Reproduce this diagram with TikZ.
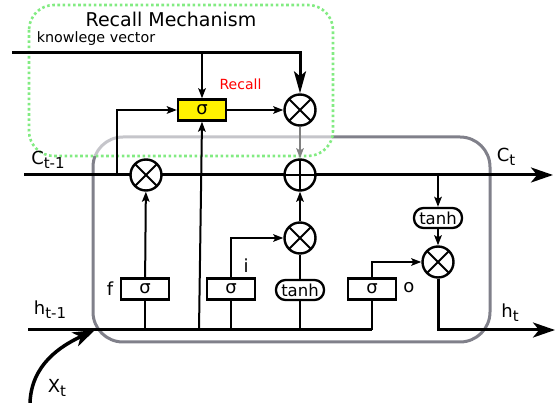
\documentclass[tikz,border=0pt]{standalone}
\usepackage{fontspec}
\setmainfont{DejaVu Sans}
\usetikzlibrary{arrows.meta}
\definecolor{cellgray}{RGB}{128,128,138}
\definecolor{recallgreen}{RGB}{130,235,130}

\begin{document}
\begin{tikzpicture}[x=1pt,y=-1pt,>={Stealth[length=10pt,width=7.5pt,inset=2pt]},line width=2pt,
  gate/.style={circle,draw,fill=white,line width=2.4pt,minimum size=31pt,inner sep=0pt},
  timesgate/.style={gate,path picture={\draw[line width=2pt] (path picture bounding box.north west) -- (path picture bounding box.south east) (path picture bounding box.north east) -- (path picture bounding box.south west);}},
  plusgate/.style={gate,path picture={\draw[line width=2pt] (path picture bounding box.north) -- (path picture bounding box.south) (path picture bounding box.east) -- (path picture bounding box.west);}},
  sigbox/.style={rectangle,draw,fill=white,line width=2.3pt,minimum width=48pt,minimum height=21pt,inner sep=0pt,font=\fontsize{18}{18}\selectfont},
  tanhbox/.style={rectangle,rounded corners=9.5pt,draw,fill=white,line width=2.3pt,minimum width=48pt,minimum height=20pt,inner sep=0pt,font=\fontsize{16.5}{16.5}\selectfont},
  lbl/.style={font=\fontsize{18}{18}\selectfont,inner sep=0pt},
  thickline/.style={line width=3pt},
  bigtip/.style={-{Stealth[length=22pt,width=15pt,inset=6pt]}}]

  \useasboundingbox (0,0) rectangle (557,403);

  % cell and recall boxes
  \draw[cellgray, line width=3pt, rounded corners=30pt] (93,137) rectangle (490,342);
  \draw[recallgreen, line width=2.6pt, dash pattern=on 2.6pt off 2.6pt, rounded corners=25pt, fill=white, fill opacity=0.55] (29,5) rectangle (333,156);

  \coordinate (kin) at (12,53);
  \coordinate (cin) at (24,175);
  \coordinate (cout) at (553,175);
  \coordinate (hin) at (28,330);
  \coordinate (hout) at (555,330);
  \coordinate (xin) at (30,403);
  \coordinate (xend) at (95,330);
  \coordinate (rtap) at (117,175);
  \coordinate (htap) at (199,330);

  % cell state line
  \draw[thickline, bigtip] (cin) -- (cout);

  \node[timesgate] (rgate) at (300,110) {};
  \node[sigbox, fill=yellow] (rsig) at (202,110) {σ};
  \node[plusgate] (cplus) at (300,175) {};
  \node[timesgate] (fgate) at (146,175) {};
  \node[sigbox] (fsig) at (145,289) {σ};
  \node[sigbox] (isig) at (231,289) {σ};
  \node[tanhbox] (itanh) at (300,290) {tanh};
  \node[timesgate] (igate) at (300,238) {};
  \node[sigbox] (osig) at (372,289) {σ};
  \node[timesgate] (ogate) at (438,262) {};
  \node[tanhbox] (otanh) at (438,218) {tanh};

  % recall mechanism
  \draw[thickline, -{Stealth[length=22pt,width=12pt,inset=5pt]}] (kin) -| (rgate.north);
  \draw[->] (rsig |- kin) -- (rsig.north);
  \draw[->] (rtap) |- (rsig.west);
  \draw[->] (htap) -- (rsig.south);
  \draw[->] (rsig) -- (rgate);
  \draw[->, color=gray] (rgate) -- (cplus);

  % gates
  \draw[thickline] (hin) -- (osig.south |- hin);
  \draw[->] (fsig) -- (fgate);
  \draw (fsig.south) -- (fsig.south |- hin);
  \draw[->] (isig.north) |- (igate.west);
  \draw (isig.south) -- (isig.south |- hin);
  \draw (itanh) -- (igate);
  \draw (itanh.south) -- (itanh.south |- hin);
  \draw[->] (igate) -- (cplus);
  \draw[->] (osig.north) |- (ogate.west);
  \draw (osig.south) -- (osig.south |- hin);
  \draw[->] (otanh |- cin) -- (otanh);
  \draw[->] (otanh) -- (ogate);
  \draw[thickline, bigtip] (ogate.south) |- (hout);
  \draw[line width=3.5pt, -{Stealth[length=22pt,width=15pt,inset=6pt]}] (xin) to[out=88,in=205] (xend);

  % labels
  \node[font=\fontsize{19}{19}\selectfont] (title) at (171,19) {Recall Mechanism};
  \node[font=\fontsize{14.3}{15}\selectfont] (kv) at (96,39) {knowlege vector};
  \node[font=\fontsize{14}{14}\selectfont, red] (rlbl) at (240.5,84) {Recall};
  \node[lbl] (flbl) at (110,289) {f};
  \node[lbl] (ilbl) at (246,266) {i};
  \node[lbl] (olbl) at (409,288) {o};
  \node[lbl] (clast) at (48,160) {C\raisebox{-4pt}{\fontsize{15}{15}\selectfont t-1}};
  \node[lbl] (cnow) at (506,157) {C\raisebox{-4pt}{\fontsize{15}{15}\selectfont t}};
  \node[lbl] (hlast) at (50,310) {h\raisebox{-4pt}{\fontsize{15}{15}\selectfont t-1}};
  \node[lbl] (hnow) at (510,313) {h\raisebox{-4pt}{\fontsize{15}{15}\selectfont t}};
  \node[lbl] (xnow) at (57,388) {X\raisebox{-4pt}{\fontsize{15}{15}\selectfont t}};
\end{tikzpicture}
\end{document}
